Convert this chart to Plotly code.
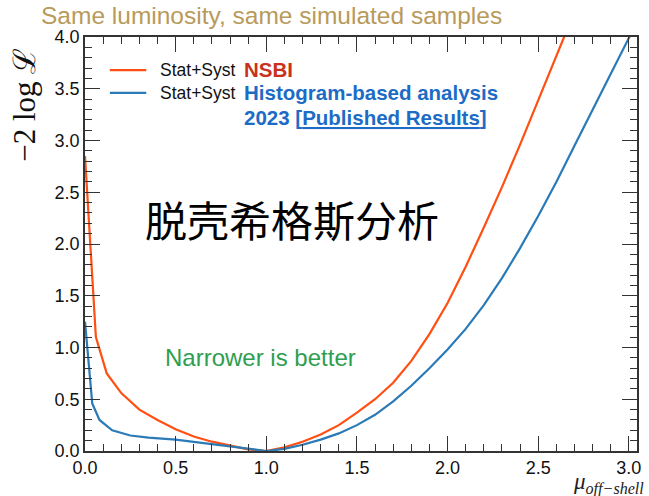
import plotly.graph_objects as go

# Profile likelihood scan: -2 log L versus mu_off-shell
mu_nsbi = [0.0, 0.06, 0.12, 0.2, 0.3, 0.4, 0.5, 0.6, 0.7, 0.8, 0.9, 1.0,
           1.1, 1.2, 1.3, 1.4, 1.5, 1.6, 1.7, 1.8, 1.9, 2.0, 2.1, 2.2,
           2.3, 2.4, 2.5, 2.6, 2.65]
nll_nsbi = [2.85, 1.10, 0.75, 0.56, 0.40, 0.30, 0.21, 0.14, 0.09, 0.05, 0.015, 0.0,
            0.035, 0.09, 0.16, 0.25, 0.37, 0.50, 0.66, 0.87, 1.13, 1.43, 1.78, 2.16,
            2.55, 2.96, 3.38, 3.81, 4.03]

mu_hist = [0.0, 0.04, 0.08, 0.15, 0.25, 0.35, 0.5, 0.7, 0.85, 1.0,
           1.1, 1.2, 1.3, 1.4, 1.5, 1.6, 1.7, 1.8, 1.9, 2.0, 2.1, 2.2,
           2.3, 2.4, 2.5, 2.6, 2.7, 2.8, 2.9, 3.0, 3.02]
nll_hist = [1.25, 0.46, 0.30, 0.20, 0.15, 0.13, 0.11, 0.065, 0.035, 0.0,
            0.02, 0.06, 0.11, 0.17, 0.25, 0.35, 0.48, 0.63, 0.80, 0.98, 1.18, 1.41,
            1.67, 1.96, 2.27, 2.60, 2.95, 3.30, 3.65, 3.99, 4.05]

c_nsbi = "#ff4f12"
c_hist = "#2a7ab8"
x_range = [0.0, 3.045]
y_range = [0.0, 4.0]

fig = go.Figure()
fig.add_trace(go.Scatter(x=mu_nsbi, y=nll_nsbi, mode="lines",
                         line=dict(color=c_nsbi, width=2.2), showlegend=False))
fig.add_trace(go.Scatter(x=mu_hist, y=nll_hist, mode="lines",
                         line=dict(color=c_hist, width=2.2), showlegend=False))

axis_common = dict(
    showline=True, linecolor="#333333", linewidth=1.5, mirror="allticks",
    ticks="inside", ticklen=15, tickwidth=1.2, tickcolor="#333333",
    showgrid=False, zeroline=False, tickformat=".1f",
    tickfont=dict(family="Liberation Sans, Arial", size=18, color="#111111"),
    minor=dict(ticks="inside", ticklen=7, tickwidth=1, tickcolor="#333333", dtick=0.1),
    dtick=0.5,
)
fig.update_xaxes(range=x_range, tick0=0, **axis_common)
fig.update_yaxes(range=y_range, tick0=0, **axis_common)

sans = "Liberation Sans, Arial, sans-serif"
ann = []
# header
ann.append(dict(text="Same luminosity, same simulated samples", xref="paper", yref="paper",
                x=-0.083, y=1.0, xanchor="left", yanchor="bottom", yshift=6, showarrow=False,
                font=dict(family=sans, size=24.5, color="#b89a5a")))
# axis titles
ann.append(dict(text="−2 log ℒ", xref="paper", yref="paper", x=-0.109, y=0.836,
                xanchor="center", yanchor="middle", textangle=-90, showarrow=False,
                font=dict(family="Liberation Serif, DejaVu Serif, serif", size=31, color="#111111")))
ann.append(dict(text="<i>μ<sub>off−shell</sub></i>", xref="paper", yref="paper",
                x=1.017, y=-0.078, xanchor="right", yanchor="middle", showarrow=False,
                font=dict(family="Liberation Serif, DejaVu Serif, serif", size=23, color="#222222")))
# legend entries
ann.append(dict(text="Stat+Syst", xref="paper", yref="paper", x=0.132, y=0.920,
                xanchor="left", yanchor="middle", showarrow=False,
                font=dict(family=sans, size=17.5, color="#111111")))
ann.append(dict(text="Stat+Syst", xref="paper", yref="paper", x=0.132, y=0.865,
                xanchor="left", yanchor="middle", showarrow=False,
                font=dict(family=sans, size=17.5, color="#111111")))
ann.append(dict(text="<b>NSBI</b>", xref="paper", yref="paper", x=0.284, y=0.922,
                xanchor="left", yanchor="middle", showarrow=False,
                font=dict(family=sans, size=20.5, color="#c8321c")))
ann.append(dict(text="<b>Histogram-based analysis</b>", xref="paper", yref="paper", x=0.284, y=0.867,
                xanchor="left", yanchor="middle", showarrow=False,
                font=dict(family=sans, size=20.5, color="#1c6cc6")))
ann.append(dict(text="<b>2023 [<u>Published Results</u>]</b>", xref="paper", yref="paper", x=0.284, y=0.806,
                xanchor="left", yanchor="middle", showarrow=False,
                font=dict(family=sans, size=20.5, color="#1c6cc6")))
# chart text
ann.append(dict(text="脱壳希格斯分析", xref="paper", yref="paper", x=0.375, y=0.562,
                xanchor="center", yanchor="middle", showarrow=False,
                font=dict(family="Noto Sans CJK SC", size=42, color="#000000")))
ann.append(dict(text="Narrower is better", xref="paper", yref="paper", x=0.141, y=0.227,
                xanchor="left", yanchor="middle", showarrow=False,
                font=dict(family=sans, size=24, color="#2e9e50")))

shapes = [
    dict(type="line", xref="paper", yref="paper", x0=0.045, x1=0.111, y0=0.920, y1=0.920,
         line=dict(color=c_nsbi, width=2.2)),
    dict(type="line", xref="paper", yref="paper", x0=0.045, x1=0.111, y0=0.865, y1=0.865,
         line=dict(color=c_hist, width=2.2)),
]

fig.update_layout(
    width=649, height=496,
    margin=dict(l=85, r=8, t=37, b=45),
    paper_bgcolor="white", plot_bgcolor="white",
    annotations=ann, shapes=shapes, showlegend=False,
)

fig.write_html("out.html")
